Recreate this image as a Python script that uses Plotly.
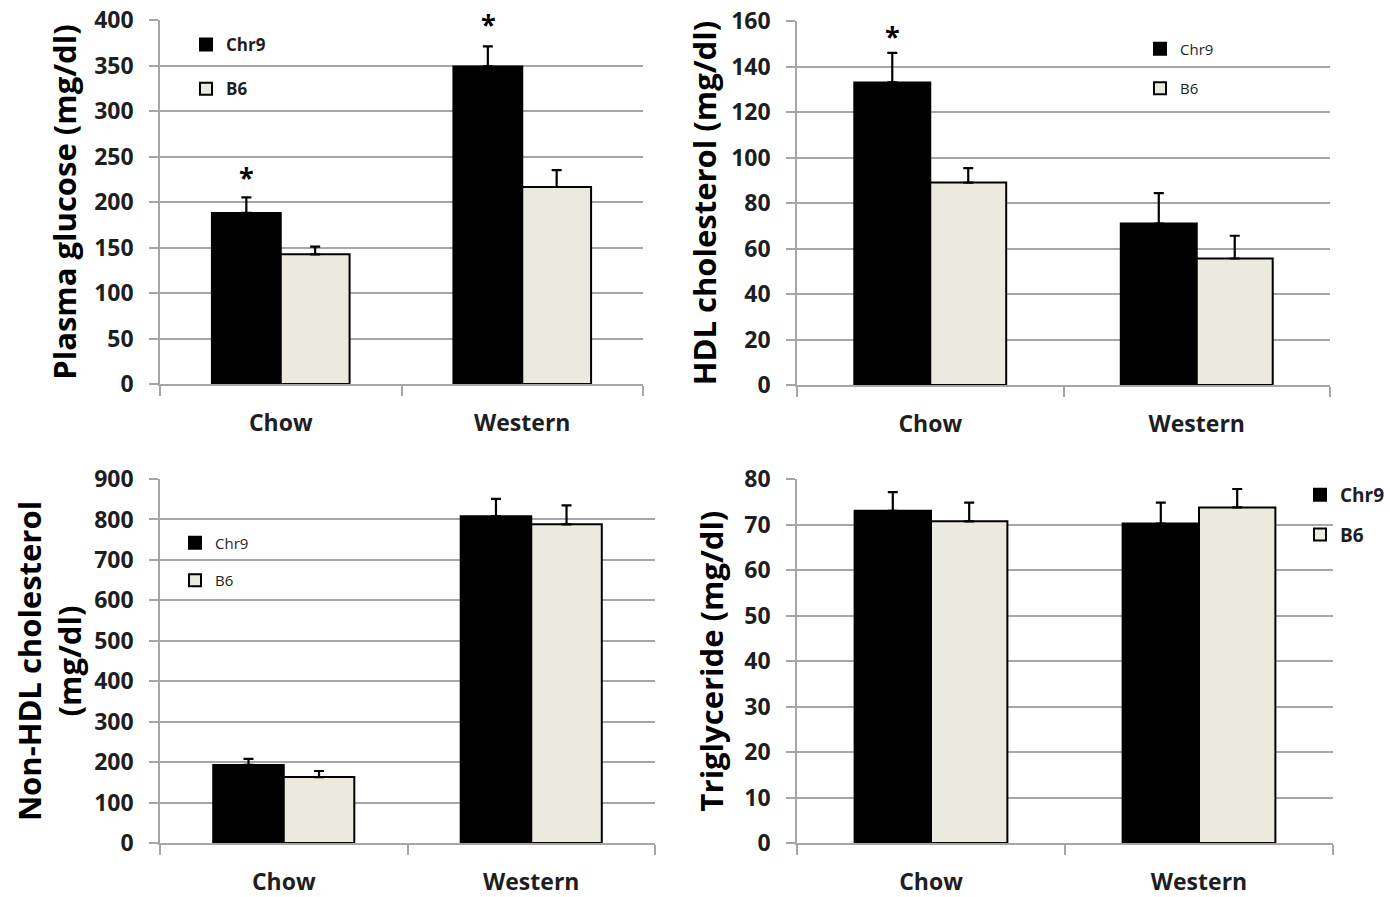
import plotly.graph_objects as go

categories = ["Chow", "Western"]

glucose_chr9 = [188, 349]
glucose_chr9_err = [17, 22]
glucose_b6 = [142.5, 216.5]
glucose_b6_err = [8.5, 18.5]

hdl_chr9 = [133, 71]
hdl_chr9_err = [13, 13.3]
hdl_b6 = [89, 55.6]
hdl_b6_err = [6.3, 10]

nonhdl_chr9 = [193, 808]
nonhdl_chr9_err = [15, 43]
nonhdl_b6 = [163, 788]
nonhdl_b6_err = [15, 47]

tg_chr9 = [73, 70.2]
tg_chr9_err = [4.1, 4.6]
tg_b6 = [70.7, 73.75]
tg_b6_err = [4.1, 4.05]

series_names = ["Chr9", "B6"]

W, H = 1390, 897
BLACK = "#000000"
LIGHT = "#ECE9DF"
GRID = "#A6A6A6"
TXT = "#1E1E1E"
FONT = "Open Sans"

panels = [
    dict(s="", c=glucose_chr9, ce=glucose_chr9_err, b=glucose_b6, be=glucose_b6_err,
         ymax=400, dtick=50, title="Plasma glucose (mg/dl)",
         px=(160, 643), py=(20, 384), standoff=8,
         leg=dict(x=186, y=27, size=17, bold=True, gap=19)),
    dict(s="2", c=hdl_chr9, ce=hdl_chr9_err, b=hdl_b6, be=hdl_b6_err,
         ymax=160, dtick=20, title="HDL cholesterol (mg/dl)",
         px=(797, 1330), py=(21, 385), standoff=5,
         leg=dict(x=1140, y=32.5, size=15, bold=False, gap=17)),
    dict(s="3", c=nonhdl_chr9, ce=nonhdl_chr9_err, b=nonhdl_b6, be=nonhdl_b6_err,
         ymax=900, dtick=100, title="Non-HDL cholesterol<br>(mg/dl)",
         px=(160, 655), py=(479, 843), standoff=3,
         leg=dict(x=175, y=526.5, size=15, bold=False, gap=15)),
    dict(s="4", c=tg_chr9, ce=tg_chr9_err, b=tg_b6, be=tg_b6_err,
         ymax=80, dtick=10, title="Triglyceride (mg/dl)",
         px=(797, 1333), py=(479, 843), standoff=11,
         leg=dict(x=1300, y=476, size=19, bold=True, gap=12)),
]

fig = go.Figure()
layout = dict(
    width=W, height=H,
    margin=dict(l=0, r=0, t=0, b=0, autoexpand=False),
    paper_bgcolor="white", plot_bgcolor="white",
    barmode="group", bargap=0.43, bargroupgap=0,
    font=dict(family=FONT, color=TXT),
    annotations=[],
)

for i, p in enumerate(panels):
    s = p["s"]
    xa = "x" + s
    ya = "y" + s
    legname = "legend" + s
    for name, vals, errs, color in [
        (series_names[0], p["c"], p["ce"], BLACK),
        (series_names[1], p["b"], p["be"], LIGHT),
    ]:
        fig.add_trace(go.Bar(
            x=categories, y=vals, name=name,
            xaxis=xa, yaxis=ya, legend=legname, legendgroup=name + s,
            marker=dict(color=color, line=dict(color=BLACK, width=2)),
            error_y=dict(type="data", array=errs, arrayminus=[0] * len(errs),
                         symmetric=False, color=BLACK, thickness=2.2, width=5),
        ))
    x0, x1 = p["px"]
    yt, yb = p["py"]
    layout["xaxis" + s] = dict(
        domain=[x0 / W, x1 / W], anchor=ya, automargin=False,
        type="category", tickson="boundaries",
        ticks="outside", ticklen=10, tickwidth=1.5, tickcolor=GRID,
        showline=True, linecolor=GRID, linewidth=1.5,
        showgrid=False, ticklabelstandoff=18,
        tickfont=dict(family=FONT, size=23, color=TXT, weight="bold"),
    )
    layout["yaxis" + s] = dict(
        domain=[1 - yb / H, 1 - yt / H], anchor=xa, automargin=False,
        range=[0, p["ymax"]], dtick=p["dtick"],
        showgrid=True, gridcolor=GRID, gridwidth=1.5,
        showline=True, linecolor=GRID, linewidth=1.5,
        ticks="outside", ticklen=9, tickwidth=1.5, tickcolor=GRID,
        zeroline=False, ticklabelstandoff=11,
        tickfont=dict(family=FONT, size=23, color=TXT, weight="bold"),
        title=dict(text=p["title"], standoff=p["standoff"],
                   font=dict(family=FONT, size=31, color=BLACK, weight="bold")),
    )
    lg = p["leg"]
    layout[legname] = dict(
        x=lg["x"] / W, y=1 - lg["y"] / H, xanchor="left", yanchor="top",
        xref="paper", yref="paper",
        bgcolor="rgba(0,0,0,0)", borderwidth=0,
        tracegroupgap=lg["gap"], traceorder="grouped",
        font=dict(family=FONT, size=lg["size"], color=TXT,
                  weight="bold" if lg["bold"] else "normal"),
    )

# significance asterisks above Chr9 bars
stars = [
    ("", "Chow", 227.5, -34),
    ("", "Western", 396, -34),
    ("2", "Chow", 153.5, -38),
]
for s, cat, yv, shift in stars:
    layout["annotations"].append(dict(
        x=cat, y=yv, xref="x" + s, yref="y" + s, text="*", showarrow=False,
        xshift=shift, yanchor="middle",
        font=dict(family=FONT, size=27, color=BLACK, weight="bold"),
    ))

fig.update_layout(**layout)
fig.write_html("out.html")
